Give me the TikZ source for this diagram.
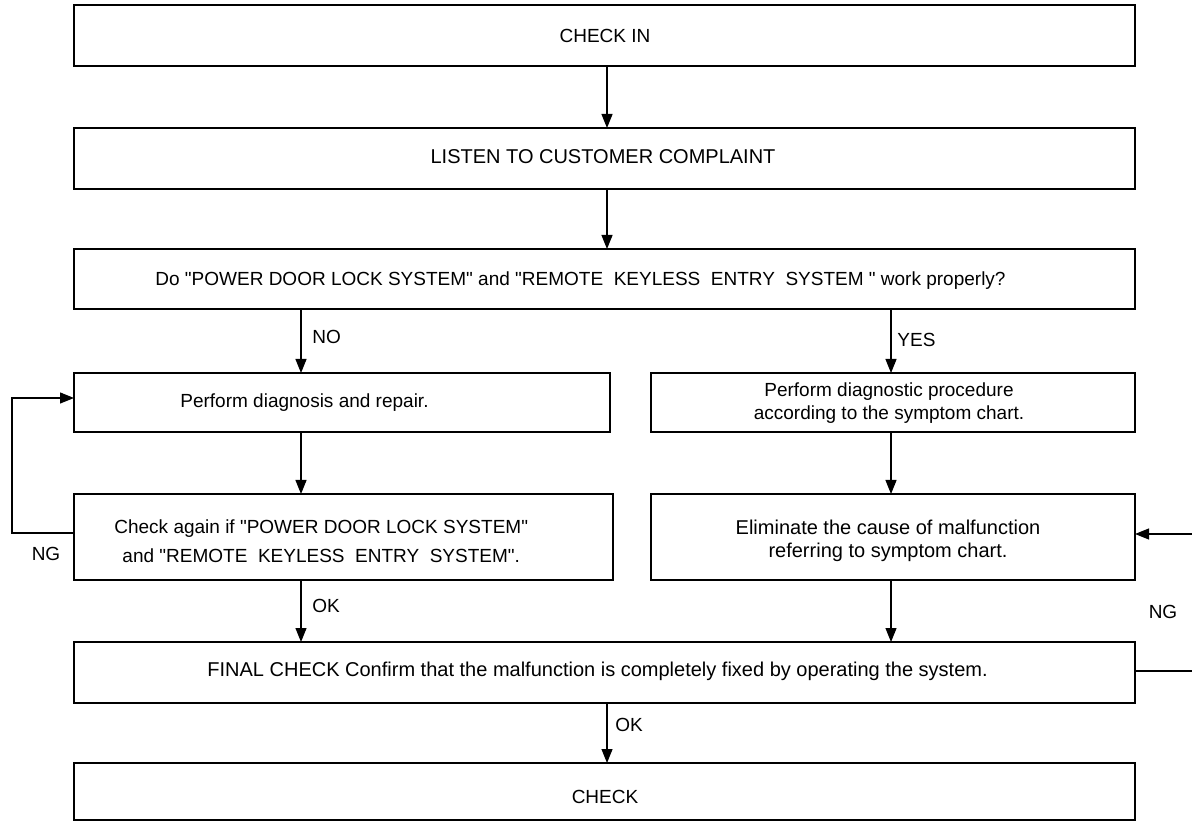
\documentclass[tikz,border=0pt]{standalone}
\usepackage{fontspec}
\setmainfont{Liberation Sans}[Ligatures=TeXOff]
\usetikzlibrary{arrows.meta}
\begin{document}
\begin{tikzpicture}[x=0.5pt,y=-0.5pt,
  box/.style={draw,line width=0.9pt,inner sep=0pt,outer sep=0pt,fill=white},
  txt/.style={font=\fontsize{9.5pt}{11.5pt}\selectfont,align=center,inner sep=0pt},
  big/.style={font=\fontsize{10pt}{11.5pt}\selectfont},
  lbl/.style={font=\fontsize{9.5pt}{10pt}\selectfont,inner sep=0pt},
  arr/.style={line width=0.6pt,-{Triangle[length=7pt,width=5.5pt]}}]
\useasboundingbox (0,0) rectangle (1192,822);
\clip (0,0) rectangle (1192,822);
\fill[white] (0,0) rectangle (1192,822);
% boxes
\node[box,minimum width=530.5pt,minimum height=30.5pt] (checkin) at (604.5,35.5) {};
\node[box,minimum width=530.5pt,minimum height=30.5pt] (listen) at (604.5,158.5) {};
\node[box,minimum width=530.5pt,minimum height=30pt] (q) at (604.5,279) {};
\node[box,minimum width=268pt,minimum height=29.5pt] (diag) at (342,402.5) {};
\node[box,minimum width=242pt,minimum height=29.5pt] (proc) at (893,402.5) {};
\node[box,minimum width=269.5pt,minimum height=43pt] (again) at (343.5,537) {};
\node[box,minimum width=242pt,minimum height=43pt] (elim) at (893,537) {};
\node[box,minimum width=530.5pt,minimum height=30.5pt] (final) at (604.5,672.5) {};
\node[box,minimum width=530.5pt,minimum height=28.5pt] (check) at (604.5,791.5) {};
% texts
\node[txt] (tcheckin) at (605,36) {CHECK IN};
\node[txt,big] (tlisten) at (603,157) {LISTEN TO CUSTOMER COMPLAINT};
\node[txt,anchor=west] (tq) at (155,281) {Do "POWER DOOR LOCK SYSTEM" and "REMOTE\ \ KEYLESS\ \ ENTRY\ \ SYSTEM\ " work properly?};
\node[txt,anchor=west] (tdiag) at (180,403) {Perform diagnosis and repair.};
\node[txt] (tproc) at (889,403) {Perform diagnostic procedure\\according to the symptom chart.};
\node[txt,anchor=west,font=\fontsize{9.5pt}{14.5pt}\selectfont] (tagain) at (114,541) {Check again if "POWER DOOR LOCK SYSTEM"\\and "REMOTE\ \ KEYLESS\ \ ENTRY\ \ SYSTEM".};
\node[txt,big] (telim) at (888,541) {Eliminate the cause of malfunction\\referring to symptom chart.};
\node[txt,big,anchor=west] (tfinal) at (207,671) {FINAL CHECK Confirm that the malfunction is completely fixed by operating the system.};
\node[txt] (tcheck) at (605,797) {CHECK};
% connector coordinates
\coordinate (lx) at (301,0);
\coordinate (rx) at (891,0);
\coordinate (mx) at (607,0);
% main arrows
\draw[arr] (checkin.south -| mx) -- (listen.north -| mx);
\draw[arr] (listen.south -| mx) -- (q.north -| mx);
\draw[arr] (q.south -| lx) -- (diag.north -| lx);
\draw[arr] (q.south -| rx) -- (proc.north -| rx);
\draw[arr] (diag.south -| lx) -- (again.north -| lx);
\draw[arr] (proc.south -| rx) -- (elim.north -| rx);
\draw[arr] (again.south -| lx) -- (final.north -| lx);
\draw[arr] (elim.south -| rx) -- (final.north -| rx);
\draw[arr] (final.south -| mx) -- (check.north -| mx);
% feedback loops
\coordinate (fa) at (12,533);
\coordinate (fb) at (12,398);
\draw[arr] (again.west |- fa) -- (fa) -- (fb) -- (diag.west |- fb);
\coordinate (ra) at (1210,671);
\coordinate (rb) at (1210,534);
\draw[arr] (final.east |- ra) -- (ra) -- (rb) -- (elim.east |- rb);
% labels
\node[lbl,anchor=west] (lno) at (312,337) {NO};
\node[lbl,anchor=west] (lyes) at (897,340) {YES};
\node[lbl] (lngl) at (46,554) {NG};
\node[lbl,anchor=west] (lokl) at (312,606) {OK};
\node[lbl] (lngr) at (1163,612) {NG};
\node[lbl,anchor=west] (lokb) at (615,725) {OK};
\end{tikzpicture}
\end{document}
